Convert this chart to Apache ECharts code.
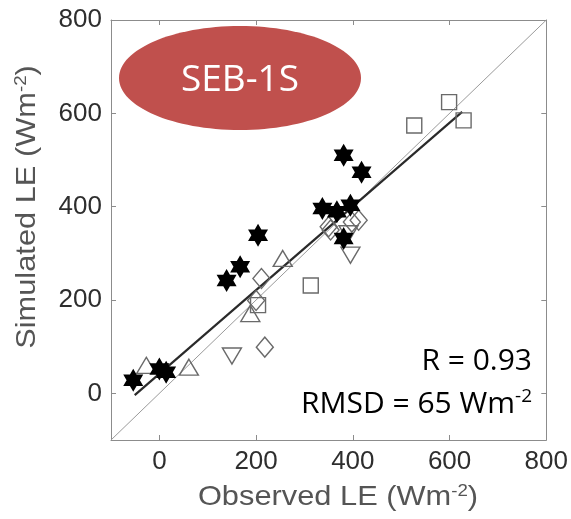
<!DOCTYPE html>
<html>
<head>
<meta charset="utf-8">
<script src="https://cdn.jsdelivr.net/npm/echarts@6/dist/echarts.min.js"></script>
<style>html,body{margin:0;padding:0;background:#fff;}#c{width:571px;height:519px;}</style>
</head>
<body>
<div id="c"></div>
<script>
// ---- data (Observed LE, Simulated LE) in W m-2 ----
const stars = [[-54,28],[0,52],[14,45],[139,242],[167,271],[204,339],[337,396],[367,389],[395,403],[381,332],[381,510],[418,474]];
const diamonds = [[350,357],[354,350],[398,367],[412,371],[211,246],[200,199],[218,99]];
const trianglesUp = [[-27,60],[61,56],[188,171],[255,289]];
const trianglesDown = [[150,80],[391,342],[395,296]];
const squares = [[204,189],[313,231],[527,574],[599,624],[629,585]];
const regLine = [[-51,-4],[626,603]];
const oneToOne = [[-100,-100],[800,800]];
const tickValues = [0,200,400,600,800];
const axisMin = -100, axisMax = 800;
const panelLabel = 'SEB-1S';
const statR = 'R = 0.93';
const statRMSD = 'RMSD = 65 Wm';

const hexagram = 'path://M0,-10 L2.887,-5 L8.66,-5 L5.774,0 L8.66,5 L2.887,5 L0,10 L-2.887,5 L-8.66,5 L-5.774,0 L-8.66,-5 L-2.887,-5 Z';
const openStyle = {color:'rgba(0,0,0,0)', borderColor:'#6a6a6a', borderWidth:1.4, opacity:1};

const chart = echarts.init(document.getElementById('c'));
const tickFont = {fontFamily:'"Liberation Sans", Arial, sans-serif', fontSize:26, color:'#2e2e2e'};
function axis(pos, show){
  return {
    type:'value', position:pos, min:axisMin, max:axisMax,
    axisLine:{show:true, onZero:false, lineStyle:{color:'#8c8c8c', width:1}},
    axisTick:{show:true, inside:true, length:5, customValues:tickValues, lineStyle:{color:'#8c8c8c'}},
    axisLabel:Object.assign({show:show, margin:9, customValues:tickValues}, tickFont),
    splitLine:{show:false}
  };
}
chart.setOption({
  animation:false,
  grid:{left:111, right:19, top:20, bottom:79},
  xAxis:[axis('bottom', true), axis('top', false)],
  yAxis:[axis('left', true), axis('right', false)],
  series:[
    {type:'line', data:oneToOne, symbol:'none', lineStyle:{color:'#9a9a9a', width:1}, z:1},
    {type:'line', data:regLine, symbol:'none', lineStyle:{color:'#2a2a2a', width:2.2}, z:2},
    {type:'scatter', data:squares, symbol:'rect', symbolSize:15, itemStyle:openStyle, z:3},
    {type:'scatter', data:diamonds, symbol:'diamond', symbolSize:[17,20], itemStyle:openStyle, z:3},
    {type:'scatter', data:trianglesUp, symbol:'triangle', symbolSize:[19,16], itemStyle:openStyle, z:3},
    {type:'scatter', data:trianglesDown, symbol:'triangle', symbolRotate:180, symbolSize:[19,16], itemStyle:openStyle, z:3},
    {type:'scatter', data:stars, symbol:hexagram, symbolSize:[20,23], itemStyle:{color:'#000', opacity:1}, z:4}
  ],
  graphic:[
    {type:'ellipse', shape:{cx:240, cy:78, rx:121, ry:52}, style:{fill:'#C0504D'}, z:10},
    {type:'text', x:240, y:80, z:11, style:{text:panelLabel, fill:'#fff', font:'37px "Open Sans"', align:'center', verticalAlign:'middle'}},
    {type:'text', x:532, y:361, z:11, style:{text:statR, fill:'#000', font:'30px "Open Sans"', align:'right', verticalAlign:'middle'}},
    {type:'text', x:532, y:404, z:11, style:{text:statRMSD+'{sup|-2}', fill:'#000', font:'30px "Open Sans"', align:'right', verticalAlign:'middle',
      rich:{sup:{font:'19px "Open Sans"', fill:'#000', verticalAlign:'top', padding:[0,0,14,0]}}}},
    {type:'text', x:338, y:497, scaleX:1.1, z:11, style:{text:'Observed LE (Wm{sup|-2})', fill:'#555', font:'28px "Liberation Sans", Arial', align:'center', verticalAlign:'middle',
      rich:{sup:{font:'17px "Liberation Sans", Arial', fill:'#555', padding:[0,0,12,0]}}}},
    {type:'text', x:27, y:207, rotation:Math.PI/2, scaleX:1.1, z:11, style:{text:'Simulated LE (Wm{sup|-2})', fill:'#555', font:'28px "Liberation Sans", Arial', align:'center', verticalAlign:'middle',
      rich:{sup:{font:'17px "Liberation Sans", Arial', fill:'#555', padding:[0,0,12,0]}}}}
  ]
});
</script>
</body>
</html>
